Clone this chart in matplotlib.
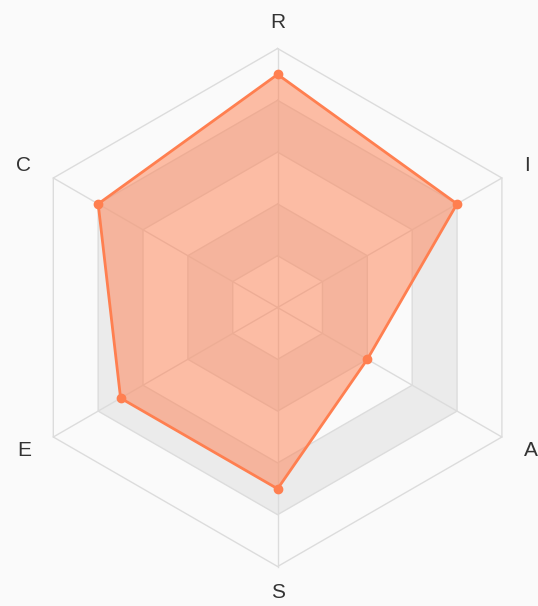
import numpy as np
import matplotlib
matplotlib.use('Agg')
import matplotlib.pyplot as plt

# dimensions (RIASEC) et scores, echelle 0-5
categories = ['R', 'I', 'A', 'S', 'E', 'C']
valeurs = [4.5, 4.0, 2.0, 3.5, 3.5, 4.0]
r_max = 5
n_anneaux = 5

plt.rcParams['font.family'] = ['Liberation Sans', 'DejaVu Sans']

W, H = 538, 606
cx, cy = 277.6, 307.5      # centre en pixels (depuis le haut)
px_unite = 259 / r_max     # pixels par unite de score

fig = plt.figure(figsize=(W/100, H/100), dpi=100)
fig.patch.set_facecolor('#fafafa')
ax = fig.add_axes([0, 0, 1, 1])
ax.set_xlim(-cx/px_unite, (W-cx)/px_unite)
ax.set_ylim(-(H-cy)/px_unite, cy/px_unite)
ax.set_aspect('equal')
ax.axis('off')

N = len(categories)
ang = np.pi/2 - 2*np.pi*np.arange(N)/N   # R en haut, sens horaire
ang_f = np.append(ang, ang[0])

# bandes alternees (de l'exterieur vers l'interieur)
for k in range(n_anneaux, 0, -1):
    r = r_max*k/n_anneaux
    coul = '#fafafa' if k % 2 == 1 else '#ebebeb'
    ax.fill(r*np.cos(ang_f), r*np.sin(ang_f), color=coul, zorder=1, lw=0)
    ax.plot(r*np.cos(ang_f), r*np.sin(ang_f), color='#dcdcdc', lw=1, zorder=2)

# rayons
for a in ang:
    ax.plot([0, r_max*np.cos(a)], [0, r_max*np.sin(a)], color='#dcdcdc', lw=1, zorder=2)

# serie
v = np.append(valeurs, valeurs[0])
xs = v*np.cos(ang_f)
ys = v*np.sin(ang_f)
ax.fill(xs, ys, color='#ff7f50', alpha=0.5, lw=0, zorder=3)
ax.plot(xs, ys, color='#ff7f50', lw=2, zorder=4)
ax.plot(xs[:-1], ys[:-1], 'o', color='#ff7f50', ms=6, zorder=5)

# etiquettes
r_lab = 285 / px_unite
for lab, a in zip(categories, ang):
    x, y = r_lab*np.cos(a), r_lab*np.sin(a)
    if abs(np.cos(a)) < 1e-6:
        ha = 'center'
    elif np.cos(a) > 0:
        ha = 'left'
    else:
        ha = 'right'
    ax.text(x, y, lab, ha=ha, va='center', fontsize=15, color='#333333')

fig.savefig('out.png', dpi=100, facecolor=fig.get_facecolor())
